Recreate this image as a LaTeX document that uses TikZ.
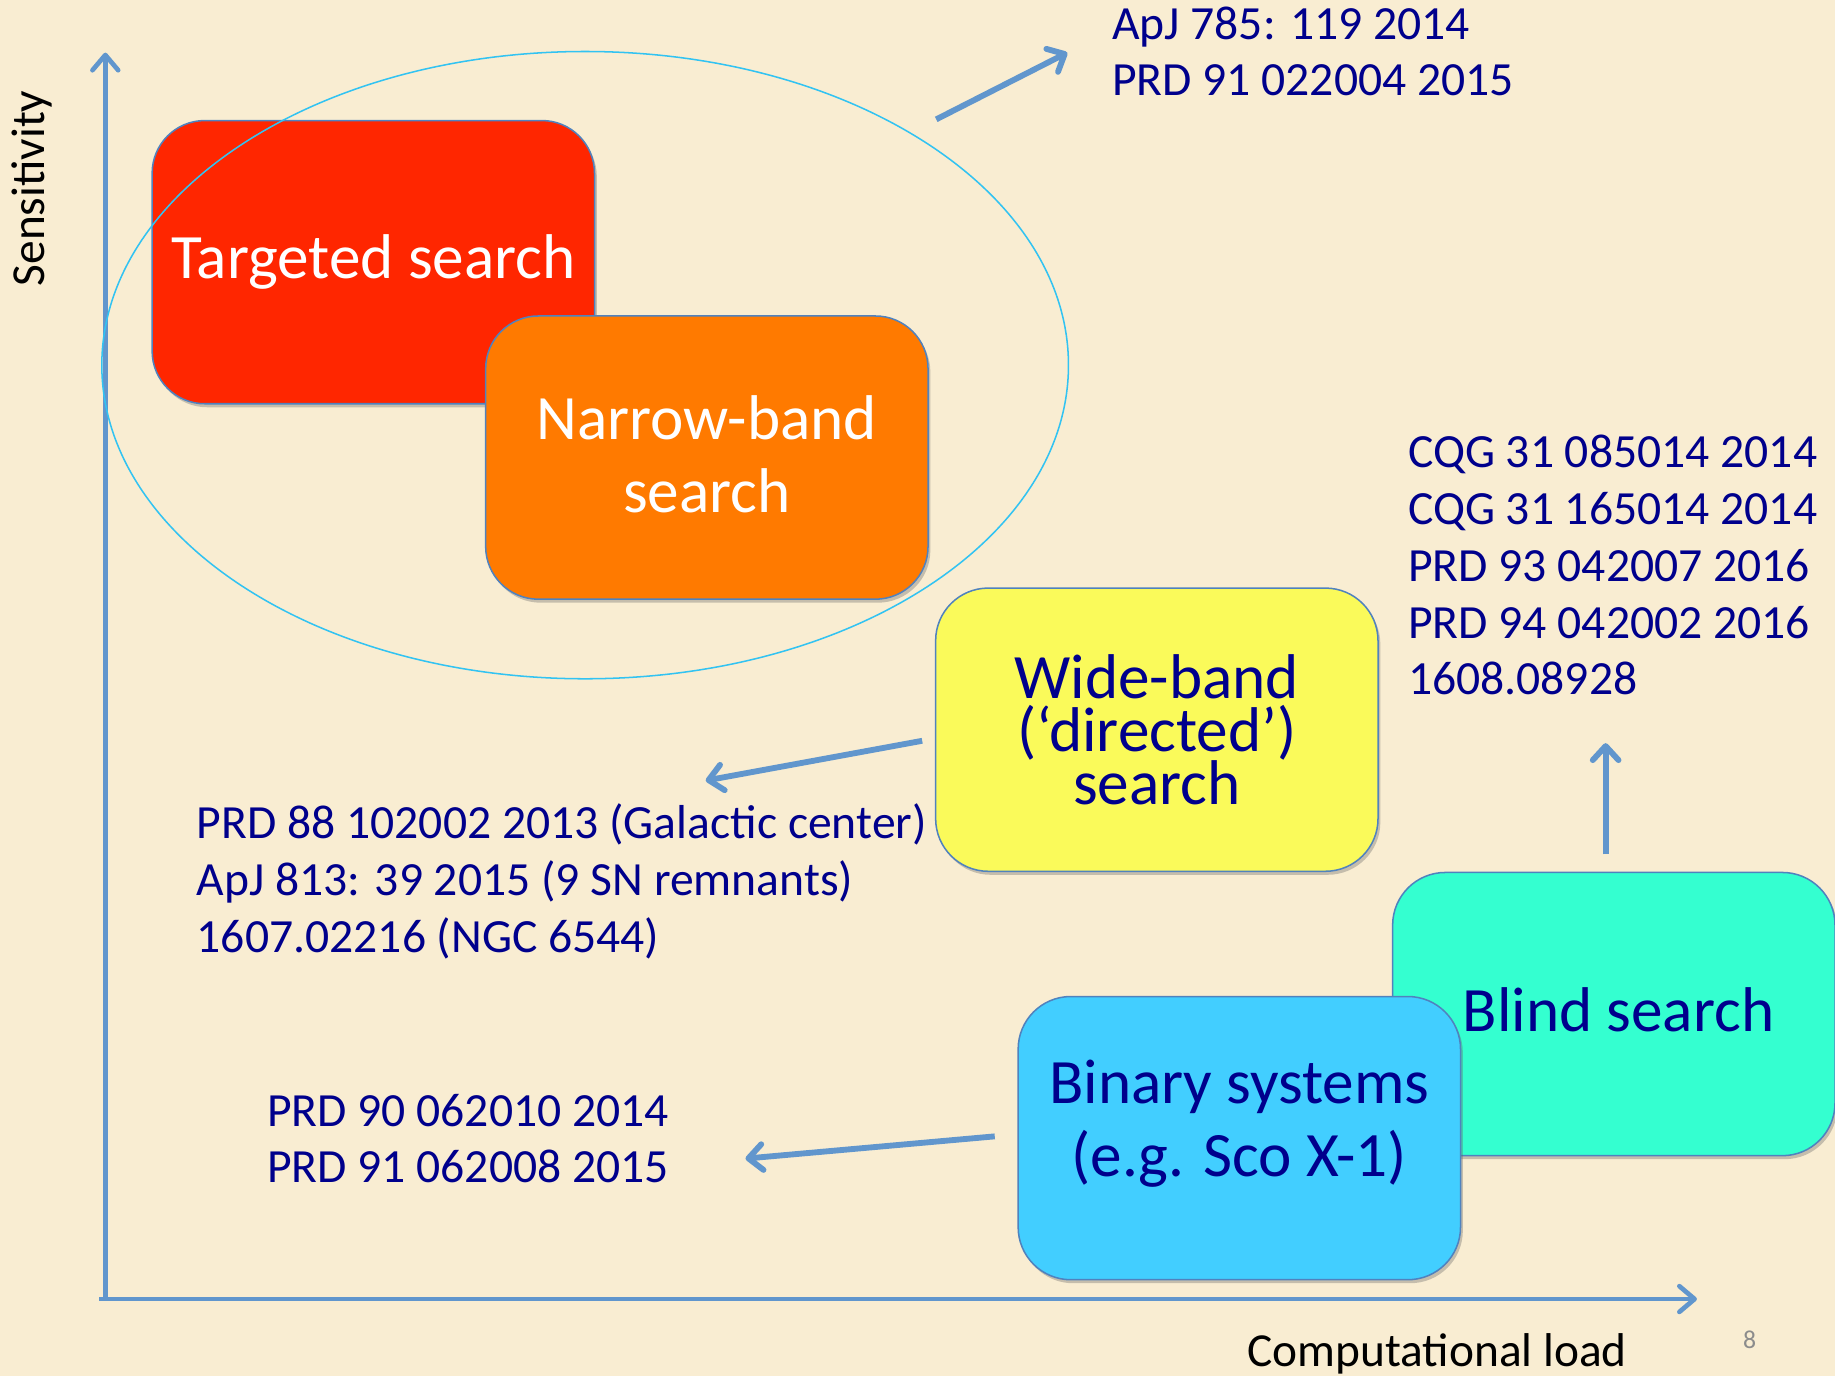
\documentclass[tikz,border=0pt]{standalone}
\usepackage{fontspec}
\setmainfont{Carlito}
\usetikzlibrary{arrows.meta,shadows}
\definecolor{bgc}{RGB}{249,237,210}
\definecolor{redc}{RGB}{255,38,0}
\definecolor{orangec}{RGB}{255,122,0}
\definecolor{yellowc}{RGB}{250,250,90}
\definecolor{tealc}{RGB}{52,255,208}
\definecolor{skyc}{RGB}{66,206,255}
\definecolor{outlinec}{RGB}{80,130,190}
\definecolor{arrowc}{RGB}{97,150,205}
\definecolor{ellc}{RGB}{50,195,242}
\definecolor{refc}{RGB}{0,0,140}
\tikzset{
  box/.style={rectangle, rounded corners=45pt, draw=outlinec, line width=1.3pt,
    minimum width=378pt, minimum height=242pt, align=center, inner sep=0pt,
    font=\fontsize{54}{63}\selectfont,
    drop shadow={shadow xshift=2pt, shadow yshift=-3pt, opacity=0.35, fill=black!60}},
  reftext/.style={align=left, inner sep=0pt, anchor=west, text=refc,
    font=\fontsize{40.7}{48.5}\selectfont},
  axislabel/.style={inner sep=0pt, text=black, font=\fontsize{40.5}{48}\selectfont},
  axisline/.style={draw=arrowc, line width=4pt,
    -{Straight Barb[length=13pt,width=22pt,round]}},
  refarrow/.style={draw=arrowc, line width=5pt,
    -{Straight Barb[length=12pt,width=22pt,round]}},
}
\begin{document}
\begin{tikzpicture}[x=1pt,y=-1pt]
\fill[bgc] (0,0) rectangle (1568,1176);
\useasboundingbox (0,0) rectangle (1568,1176);

% axes
\coordinate (origin) at (90,1110);
\coordinate (ytip) at (90,45);
\coordinate (xorig) at (85,1110);
\coordinate (xtip) at (1450,1110);
\draw[axisline] (origin) -- (ytip);
\draw[axisline] (xorig) -- (xtip);
\node[axislabel, rotate=90] (ylab) at (27,161) {Sensitivity};
\node[axislabel] (xlab) at (1228,1157) {Computational load};
\node[inner sep=0pt, text=black!45, font=\fontsize{22}{26}\selectfont] (pnum) at (1495,1145) {8};

% boxes
\node[box, fill=redc, text=white] (targeted) at (319,224) {\rule[-4pt]{0pt}{0pt}Targeted search};
\node[box, fill=orangec, text=white] (narrow) at (604,391) {Narrow-band\\search\rule[-6pt]{0pt}{0pt}};
\node[box, fill=yellowc, text=refc, font=\fontsize{54}{45.5}\selectfont] (wide) at (988.5,623.5) {Wide-band\\(‘directed’)\\search};
\node[box, fill=tealc, text=refc] (blind) at (1379,866.5) {\hspace*{8pt}Blind search\rule[-8pt]{0pt}{0pt}};
\node[box, fill=skyc, text=refc] (binary) at (1059,972.5) {Binary systems\\(e.g. Sco X-1)\rule[-34pt]{0pt}{0pt}};

% ellipse
\draw[ellc, line width=1.3pt] (500,312) ellipse [x radius=413, y radius=268];

% reference texts
\node[reftext] (apj) at (950,44) {ApJ 785: 119 2014\\PRD 91 022004 2015};
\node[reftext] (cqg) at (1203,483) {CQG 31 085014 2014\\CQG 31 165014 2014\\PRD 93 042007 2016\\PRD 94 042002 2016\\1608.08928};
\node[reftext] (prd88) at (168,753) {PRD 88 102002 2013 (Galactic center)\\ApJ 813: 39 2015 (9 SN remnants)\\1607.02216 (NGC 6544)};
\node[reftext] (prd90) at (228,973) {PRD 90 062010 2014\\PRD 91 062008 2015};

% reference arrows
\coordinate (a1s) at (800,102);
\coordinate (a1e) at (912,45);
\coordinate (a2s) at (788,633);
\coordinate (a2e) at (603,667);
\coordinate (a3s) at (850,971);
\coordinate (a3e) at (637,990);
\coordinate (a4s) at (1372,730);
\coordinate (a4e) at (1372,635);
\draw[refarrow] (a1s) -- (a1e);
\draw[refarrow] (a2s) -- (a2e);
\draw[refarrow] (a3s) -- (a3e);
\draw[refarrow] (a4s) -- (a4e);
\end{tikzpicture}
\end{document}
